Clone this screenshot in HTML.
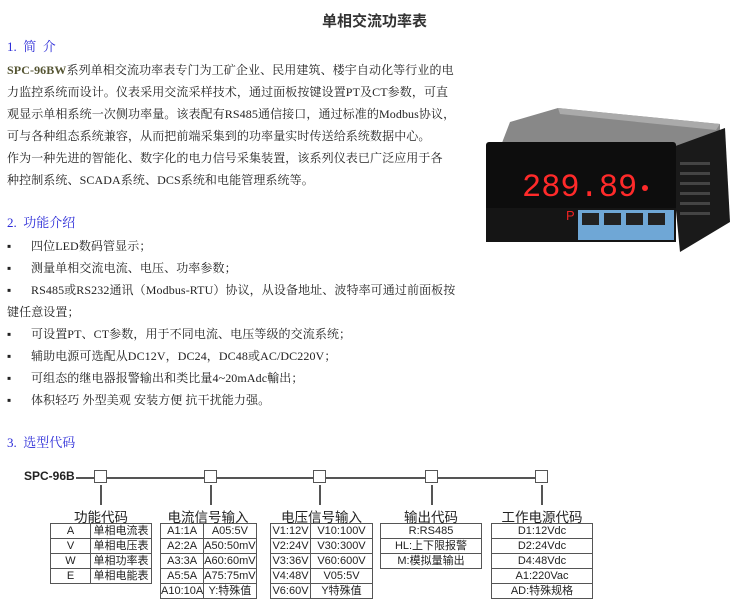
<!DOCTYPE html>
<html><head><meta charset="utf-8"><style>
*{margin:0;padding:0}
body{width:750px;height:607px;background:#fff;position:relative;overflow:hidden;font-family:"Liberation Serif","Noto Serif CJK SC","Noto Sans CJK SC",serif;color:#222}
.a{position:absolute;white-space:nowrap}
.t{font-size:12px;line-height:22px;left:7px;letter-spacing:0.1px}
.h{color:#2b2bd8;font-size:13px;left:7px;line-height:22px}
.s{font-family:"Liberation Sans","Noto Sans CJK SC",sans-serif}
table{position:absolute;border-collapse:collapse;font-family:"Liberation Sans","Noto Sans CJK SC",sans-serif;font-size:11px;color:#222}
td{border:1.5px solid #555;text-align:center;height:14px;padding:0;line-height:13px}
.hd{position:absolute;font-family:"Liberation Sans","Noto Sans CJK SC",sans-serif;font-size:13.5px;text-align:center;color:#222}
.bx{position:absolute;width:11px;height:11px;border:1.5px solid #555;background:#fff;top:470px}
.vl{position:absolute;width:1.5px;background:#555;top:485px;height:20px}
</style></head><body>
<div class="a" style="left:322px;top:10px;font-size:15px;font-weight:bold;font-family:'Noto Sans CJK SC',sans-serif;color:#333">单相交流功率表</div>
<div class="a h" style="top:36px">1.&nbsp;&nbsp;简&nbsp;&nbsp;介</div>
<div class="a t" style="top:59px"><b style="color:#553">SPC-96BW</b>系列单相交流功率表专门为工矿企业、民用建筑、楼宇自动化等行业的电</div>
<div class="a t" style="top:81px">力监控系统而设计。仪表采用交流采样技术，通过面板按键设置PT及CT参数，可直</div>
<div class="a t" style="top:103px">观显示单相系统一次侧功率量。该表配有RS485通信接口，通过标准的Modbus协议，</div>
<div class="a t" style="top:125px">可与各种组态系统兼容，从而把前端采集到的功率量实时传送给系统数据中心。</div>
<div class="a t" style="top:147px">作为一种先进的智能化、数字化的电力信号采集装置，该系列仪表已广泛应用于各</div>
<div class="a t" style="top:169px">种控制系统、SCADA系统、DCS系统和电能管理系统等。</div>

<div class="a h" style="top:212px">2.&nbsp;&nbsp;功能介绍</div>
<div class="a t" style="top:235px">▪</div><div class="a t" style="top:235px;left:31px">四位LED数码管显示；</div>
<div class="a t" style="top:257px">▪</div><div class="a t" style="top:257px;left:31px">测量单相交流电流、电压、功率参数；</div>
<div class="a t" style="top:279px">▪</div><div class="a t" style="top:279px;left:31px">RS485或RS232通讯（Modbus-RTU）协议，从设备地址、波特率可通过前面板按</div>
<div class="a t" style="top:301px">键任意设置；</div>
<div class="a t" style="top:323px">▪</div><div class="a t" style="top:323px;left:31px">可设置PT、CT参数，用于不同电流、电压等级的交流系统；</div>
<div class="a t" style="top:345px">▪</div><div class="a t" style="top:345px;left:31px">辅助电源可选配从DC12V，DC24，DC48或AC/DC220V；</div>
<div class="a t" style="top:367px">▪</div><div class="a t" style="top:367px;left:31px">可组态的继电器报警输出和类比量4~20mAdc輸出；</div>
<div class="a t" style="top:389px">▪</div><div class="a t" style="top:389px;left:31px">体积轻巧 外型美观 安装方便 抗干扰能力强。</div>
<div class="a h" style="top:432px">3.&nbsp;&nbsp;选型代码</div>

<!-- meter photo -->
<svg class="a" style="left:480px;top:102px" width="255" height="150" viewBox="0 0 255 150">
<polygon points="30,20 78,6 240,22 240,40 200,52 20,46" fill="#888"/>
<polygon points="78,6 240,22 236,28 80,12" fill="#aaa"/>
<polygon points="190,46 245,26 250,120 200,150" fill="#1a1a1a"/>
<g fill="#444"><rect x="200" y="60" width="30" height="3"/><rect x="200" y="70" width="30" height="3"/><rect x="200" y="80" width="30" height="3"/><rect x="200" y="90" width="30" height="3"/><rect x="200" y="100" width="30" height="3"/><rect x="200" y="110" width="30" height="3"/></g>
<rect x="6" y="40" width="190" height="100" rx="3" fill="#0d0d0d"/>
<rect x="6" y="106" width="190" height="34" fill="#151515"/>
<rect x="98" y="108" width="96" height="30" fill="#6fa7d6"/>
<g fill="#222"><rect x="102" y="111" width="17" height="12"/><rect x="124" y="111" width="17" height="12"/><rect x="146" y="111" width="17" height="12"/><rect x="168" y="111" width="17" height="12"/></g>
<text x="42" y="94" font-family="Liberation Mono,monospace" font-size="32" fill="#ff2a2a">289.89</text>
<circle cx="165" cy="86" r="3" fill="#ff2a2a"/>
<text x="86" y="118" font-family="Liberation Sans,sans-serif" font-size="13" fill="#e22">P</text>
</svg>

<!-- selection diagram -->
<div class="a s" style="left:24px;top:469px;font-size:12px;font-weight:bold;color:#222">SPC-96B</div>
<div class="a" style="left:76px;top:477px;width:470px;height:1.5px;background:#555"></div>
<div class="bx" style="left:94px"></div><div class="bx" style="left:204px"></div><div class="bx" style="left:313px"></div><div class="bx" style="left:425px"></div><div class="bx" style="left:535px"></div>
<div class="vl" style="left:100px"></div><div class="vl" style="left:210px"></div><div class="vl" style="left:319px"></div><div class="vl" style="left:431px"></div><div class="vl" style="left:541px"></div>

<div class="hd" style="left:50px;top:506px;width:102px">功能代码</div>
<div class="hd" style="left:160px;top:506px;width:96px">电流信号输入</div>
<div class="hd" style="left:270px;top:506px;width:103px">电压信号输入</div>
<div class="hd" style="left:380px;top:506px;width:102px">输出代码</div>
<div class="hd" style="left:491px;top:506px;width:102px">工作电源代码</div>

<table style="left:50px;top:523px;width:102px"><tr><td style="width:39px">A</td><td>单相电流表</td></tr><tr><td>V</td><td>单相电压表</td></tr><tr><td>W</td><td>单相功率表</td></tr><tr><td>E</td><td>单相电能表</td></tr></table>
<table style="left:160px;top:523px;width:96px"><tr><td style="width:39px">A1:1A</td><td>A05:5V</td></tr><tr><td>A2:2A</td><td>A50:50mV</td></tr><tr><td>A3:3A</td><td>A60:60mV</td></tr><tr><td>A5:5A</td><td>A75:75mV</td></tr><tr><td>A10:10A</td><td>Y:特殊值</td></tr></table>
<table style="left:270px;top:523px;width:103px"><tr><td style="width:39px">V1:12V</td><td>V10:100V</td></tr><tr><td>V2:24V</td><td>V30:300V</td></tr><tr><td>V3:36V</td><td>V60:600V</td></tr><tr><td>V4:48V</td><td>V05:5V</td></tr><tr><td>V6:60V</td><td>Y特殊值</td></tr></table>
<table style="left:380px;top:523px;width:102px"><tr><td>R:RS485</td></tr><tr><td>HL:上下限报警</td></tr><tr><td>M:模拟量输出</td></tr></table>
<table style="left:491px;top:523px;width:102px"><tr><td>D1:12Vdc</td></tr><tr><td>D2:24Vdc</td></tr><tr><td>D4:48Vdc</td></tr><tr><td>A1:220Vac</td></tr><tr><td>AD:特殊规格</td></tr></table>
</body></html>
